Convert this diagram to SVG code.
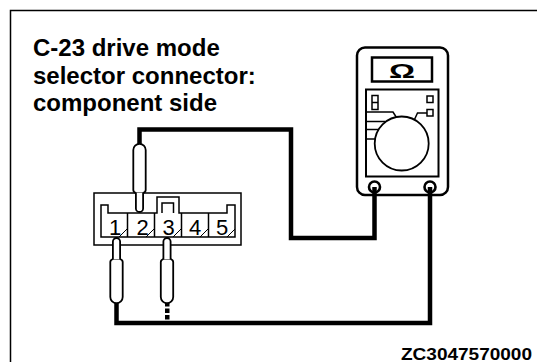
<svg xmlns="http://www.w3.org/2000/svg" width="537" height="362" viewBox="0 0 537 362">
  <style>
    .title { font-family: "Liberation Sans", Arial, sans-serif; font-weight: bold; font-size: 24px; fill: #000; }
    .pin { font-family: "Liberation Sans", Arial, sans-serif; font-size: 22px; fill: #000; text-anchor: middle; }
    .code { font-family: "Liberation Sans", Arial, sans-serif; font-weight: bold; font-size: 16px; fill: #000; }
    .thin { fill: none; stroke: #000; stroke-width: 1.5; }
    .wire { fill: none; stroke: #000; stroke-width: 4.5; stroke-linejoin: miter; }
    .probe { fill: #fff; stroke: #000; stroke-width: 1.8; }
    .meter { fill: #fff; stroke: #000; stroke-width: 2.5; }
  </style>
  <defs>
    <!-- test probe pointing down: tip at y=0, body above -->
    <g id="probeDown">
      <path class="probe" d="M-6.2,-62 A6.2,6.2 0 0 1 6.2,-62 V-22 Q6.2,-20 3.6,-19 H-3.6 Q-6.2,-20 -6.2,-22 Z"/>
      <path class="probe" d="M-3.6,-19.5 V-3.6 A3.6,3.6 0 0 0 3.6,-3.6 V-19.5"/>
    </g>
    <!-- test probe pointing up: tip at y=0, body below -->
    <g id="probeUp">
      <path class="probe" d="M-6.2,59 A6.2,6.2 0 0 0 6.2,59 V24 Q6.2,22 3.6,21 H-3.6 Q-6.2,22 -6.2,24 Z"/>
      <path class="probe" d="M-3.6,21.5 V3.6 A3.6,3.6 0 0 1 3.6,3.6 V21.5"/>
    </g>
  </defs>

  <rect width="537" height="362" fill="#fff"/>
  <!-- frame -->
  <path d="M10.5,362 V10.5 H537" fill="none" stroke="#000" stroke-width="1.5"/>

  <!-- caption -->
  <g id="caption">
    <text class="title" x="33" y="56">C-23 drive mode</text>
    <text class="title" x="33" y="83.5">selector connector:</text>
    <text class="title" x="33" y="111">component side</text>
  </g>

  <!-- connectors (test leads) -->
  <g id="wires">
    <path class="wire" d="M139.5,150 V129.5 H291 V238 H374.5 V187"/>
    <path class="wire" d="M116.5,297 V323 H430 V187"/>
    <g fill="#000">
      <rect x="165" y="302" width="4.5" height="4.5"/>
      <rect x="165" y="308.5" width="4.5" height="4.5"/>
      <rect x="165" y="315" width="4.5" height="4.5"/>
    </g>
  </g>

  <!-- C-23 connector -->
  <g id="connector-c23">
    <rect class="thin" x="94" y="193" width="147" height="52" fill="#fff"/>
    <path class="thin" d="M101,237 V205 H108 V213 H157 V197 H179 V213 H227 V205 H235 V237 Z"/>
    <path class="thin" d="M162,213 V203 H173.5 V213"/>
    <path class="thin" d="M127.5,213 V237 M154.5,213 V237 M181.5,213 V237 M208.5,213 V237"/>
    <path fill="none" stroke="#000" stroke-width="1" d="M119,237 L127,229 M146,237 L154,229 M173,237 L181,229 M200,237 L208,229 M227,237 L235,229"/>
    <text class="pin" x="115" y="234.5">1</text>
    <text class="pin" x="142.5" y="234.5">2</text>
    <text class="pin" x="168.5" y="234.5">3</text>
    <text class="pin" x="195" y="234.5">4</text>
    <text class="pin" x="222" y="234.5">5</text>
  </g>

  <!-- probes -->
  <g id="probe-pin2"><use href="#probeDown" x="139.5" y="212"/></g>
  <g id="probe-pin1"><use href="#probeUp" x="116.5" y="238"/></g>
  <g id="probe-pin3"><use href="#probeUp" x="167" y="238"/></g>

  <!-- ohmmeter -->
  <g id="ohmmeter">
    <rect class="meter" x="357" y="47.5" width="91" height="147.5" rx="8"/>
    <rect class="meter" x="372" y="57.5" width="60" height="24"/>
    <text x="402" y="77.5" font-family="'Liberation Sans', Arial, sans-serif" font-weight="bold" font-size="21" text-anchor="middle" textLength="26" lengthAdjust="spacingAndGlyphs">Ω</text>
    <rect x="366" y="89.5" width="72.5" height="87" fill="#fff" stroke="#000" stroke-width="2"/>
    <circle cx="401.7" cy="143.5" r="27" fill="#fff" stroke="#000" stroke-width="1.8"/>
    <g fill="none" stroke="#000" stroke-width="1.5">
      <rect x="372" y="95.5" width="6" height="14"/>
      <path d="M372,102.5 H378"/>
      <rect x="427" y="96" width="6" height="6.5"/>
      <rect x="427" y="109.5" width="6" height="6.5"/>
      <path d="M366,112 H393 L396.5,117.5"/>
      <path d="M366,121.5 H385.5"/>
      <path d="M366,129.5 H378.5"/>
      <path d="M366,139 H375"/>
      <path d="M414.5,119.5 L417.5,113 H427"/>
    </g>
    <circle cx="374.5" cy="187" r="5.5" fill="#fff" stroke="#000" stroke-width="2.6"/>
    <circle cx="430" cy="187" r="5.5" fill="#fff" stroke="#000" stroke-width="2.6"/>
    <path class="wire" d="M374.5,187 V196 M430,187 V196"/>
  </g>

  <text class="code" x="401" y="360" textLength="131" lengthAdjust="spacingAndGlyphs">ZC3047570000</text>
</svg>
